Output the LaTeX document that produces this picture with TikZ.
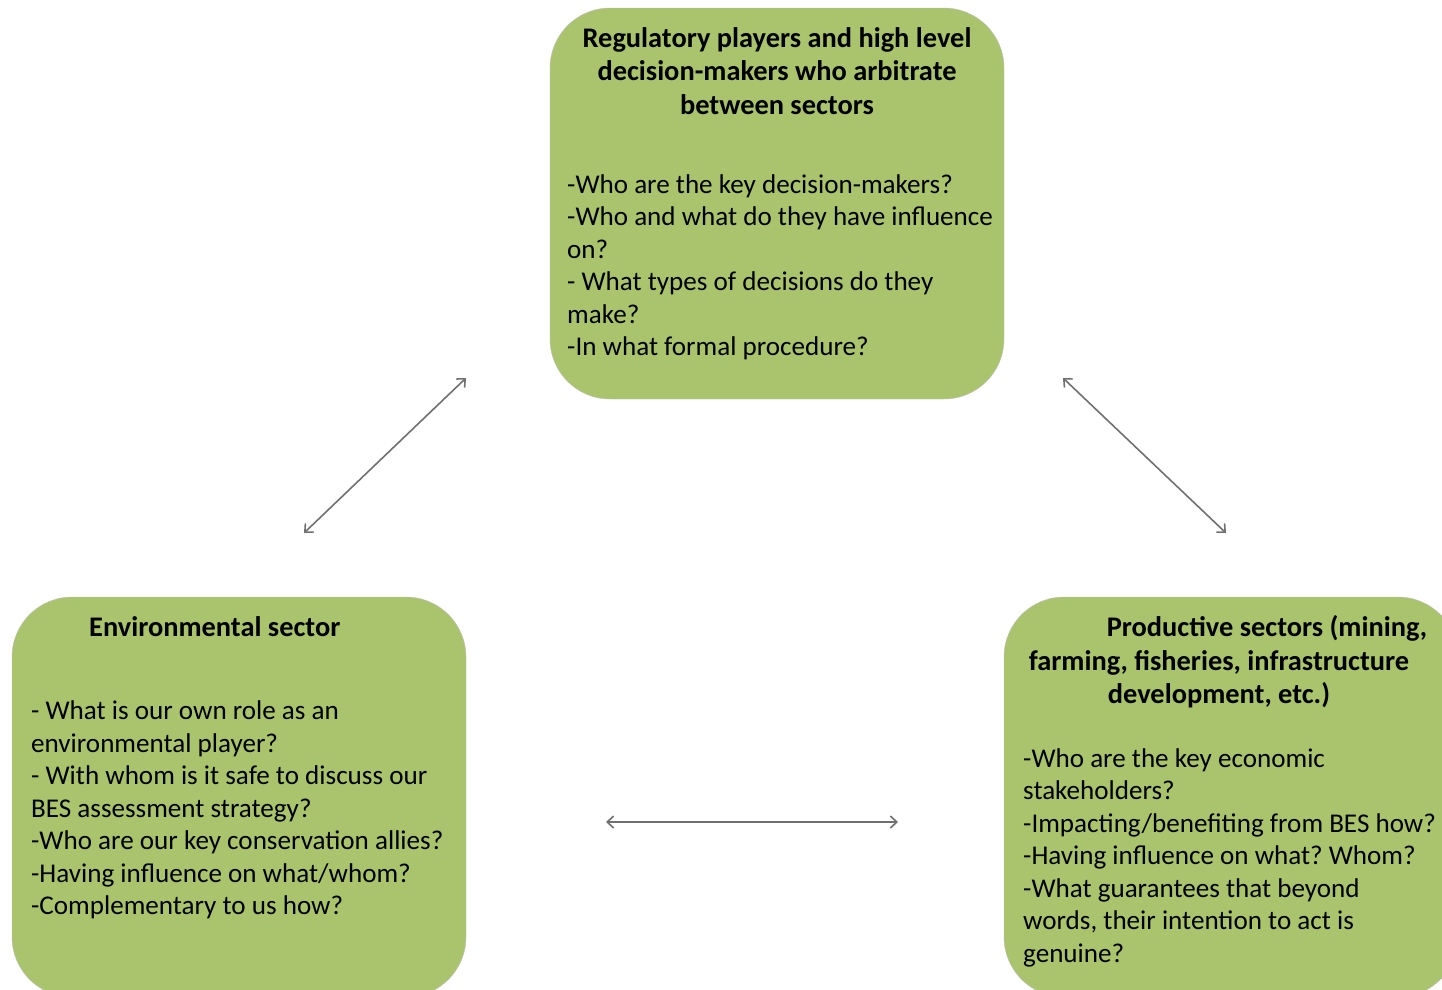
\documentclass[tikz,border=0pt]{standalone}
\usepackage{fontspec}
\setmainfont{Carlito}
\frenchspacing
\usetikzlibrary{positioning,arrows.meta}
\definecolor{panelgreen}{RGB}{169,196,108}
\definecolor{linkgrey}{RGB}{112,112,112}
\tikzset{
  panel/.style={draw=black!25,thin,fill=panelgreen,rounded corners=60pt,
    minimum width=454pt,inner sep=0pt},
  head/.style={font=\fontsize{28.4}{33.6}\selectfont\bfseries,align=center,inner sep=0pt},
  body/.style={font=\fontsize{27.1}{32.5}\selectfont,align=left,anchor=north west,inner sep=0pt},
  link/.style={draw=linkgrey,line width=1.6pt,
    {Straight Barb[length=6.5pt,width=12pt]}-{Straight Barb[length=6.5pt,width=12pt]}}
}

\begin{document}
\begin{tikzpicture}[x=1pt,y=-1pt]
    \useasboundingbox (0,0) rectangle (1442,989);
    % the three groups of players
    \node[panel,minimum height=391pt] (reg) at (777,203.5) {};
    \node[panel,minimum height=400pt] (env) at (239,797) {};
    \node[panel,minimum height=400pt] (prod) at (1231,797) {};
    % titles
    \node[head,anchor=north] (regtitle) at (777,27)
        {Regulatory players and high level\\decision-makers who arbitrate\\between sectors};
    \node[head,anchor=north west] (envtitle) at (89,616.5) {Environmental sector};
    \node[head,anchor=north] (prodtitle) at (1219,615.5)
        {\hspace*{96pt}Productive sectors (mining,\\farming, fisheries, infrastructure\\development, etc.)};
    % questions
    \node[body] (regtext) at (567,174)
        {-Who are the key decision-makers?\\-Who and what do they have influence\\on?\\- What types of decisions do they\\make?\\-In what formal procedure?};
    \node[body] (envtext) at (31,700.5)
        {- What is our own role as an\\environmental player?\\- With whom is it safe to discuss our\\BES assessment strategy?\\-Who are our key conservation allies?\\-Having influence on what/whom?\\-Complementary to us how?};
    \node[body] (prodtext) at (1023,748)
        {-Who are the key economic\\stakeholders?\\-Impacting/benefiting from BES how?\\-Having influence on what? Whom?\\-What guarantees that beyond\\words, their intention to act is\\genuine?};
    % links between the groups
    \coordinate (regL) at (466,378);
    \coordinate (envT) at (304,533);
    \coordinate (regR) at (1063,378);
    \coordinate (prodT) at (1226,533);
    \coordinate (envR) at (606,822);
    \coordinate (prodL) at (898,822);
    \draw[link] (regL) -- (envT);
    \draw[link] (regR) -- (prodT);
    \draw[link] (envR) -- (prodL);
\end{tikzpicture}
\end{document}
